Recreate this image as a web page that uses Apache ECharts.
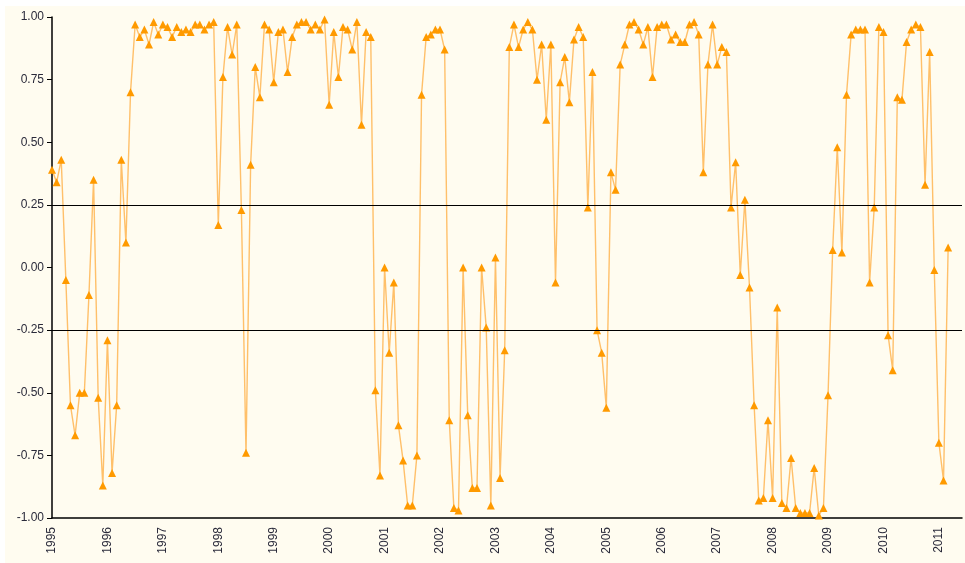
<!DOCTYPE html>
<html>
<head>
    <meta charset="utf-8">
    <title>chart</title>
    <script src="https://cdn.jsdelivr.net/npm/echarts@6/dist/echarts.min.js"></script>
    <style>
        html, body { margin: 0; padding: 0; background: #fff; }
        #main { width: 965px; height: 563px; }
    </style>
</head>
<body>
    <div id="main"></div>
    <script>
        // monthly values, Jan 1995 .. Mar 2011
        var startYear = 1995;
        var monthCount = 198; // axis runs a little past the last point
        var values = [
            0.39, 0.34, 0.43, -0.05, -0.55, -0.67, -0.50, -0.50, -0.11, 0.35, -0.52, -0.87,
            -0.29, -0.82, -0.55, 0.43, 0.10, 0.70, 0.97, 0.92, 0.95, 0.89, 0.98, 0.93,
            0.97, 0.96, 0.92, 0.96, 0.94, 0.95, 0.94, 0.97, 0.97, 0.95, 0.97, 0.98,
            0.17, 0.76, 0.96, 0.85, 0.97, 0.23, -0.74, 0.41, 0.80, 0.68, 0.97, 0.95,
            0.74, 0.94, 0.95, 0.78, 0.92, 0.97, 0.98, 0.98, 0.95, 0.97, 0.95, 0.99,
            0.65, 0.94, 0.76, 0.96, 0.95, 0.87, 0.98, 0.57, 0.94, 0.92, -0.49, -0.83,
            0.00, -0.34, -0.06, -0.63, -0.77, -0.95, -0.95, -0.75, 0.69, 0.92, 0.93, 0.95,
            0.95, 0.87, -0.61, -0.96, -0.97, 0.00, -0.59, -0.88, -0.88, 0.00, -0.24, -0.95,
            0.04, -0.84, -0.33, 0.88, 0.97, 0.88, 0.95, 0.98, 0.95, 0.75, 0.89, 0.59,
            0.89, -0.06, 0.74, 0.84, 0.66, 0.91, 0.96, 0.92, 0.24, 0.78, -0.25, -0.34,
            -0.56, 0.38, 0.31, 0.81, 0.89, 0.97, 0.98, 0.95, 0.89, 0.96, 0.76, 0.96,
            0.97, 0.97, 0.91, 0.93, 0.90, 0.90, 0.97, 0.98, 0.93, 0.38, 0.81, 0.97,
            0.81, 0.88, 0.86, 0.24, 0.42, -0.03, 0.27, -0.08, -0.55, -0.93, -0.92, -0.61,
            -0.92, -0.16, -0.94, -0.96, -0.76, -0.96, -0.98, -0.98, -0.98, -0.80, -0.99, -0.96,
            -0.51, 0.07, 0.48, 0.06, 0.69, 0.93, 0.95, 0.95, 0.95, -0.06, 0.24, 0.96,
            0.94, -0.27, -0.41, 0.68, 0.67, 0.90, 0.95, 0.97, 0.96, 0.33, 0.86, -0.01,
            -0.70, -0.85, 0.08
        ];
        var refLines = [0.25, -0.25];

        var months = [];
        for (var i = 0; i < monthCount; i++) {
            var y = startYear + Math.floor(i / 12);
            var m = (i % 12) + 1;
            months.push(y + '-' + (m < 10 ? '0' + m : m));
        }

        var chart = echarts.init(document.getElementById('main'));
        chart.setOption({
            animation: false,
            backgroundColor: '#ffffff',
            graphic: [{
                type: 'rect',
                left: 5,
                top: 6,
                shape: { width: 960, height: 557 },
                style: { fill: '#fffcf0' },
                z: -10
            }],
            grid: {
                left: 52,
                right: 3,
                top: 17,
                bottom: 45
            },
            xAxis: {
                type: 'category',
                data: months,
                boundaryGap: false,
                axisLine: { onZero: false, lineStyle: { color: '#000', width: 1.5 } },
                axisTick: { show: false },
                axisLabel: {
                    interval: function (i) { return i % 12 === 0; },
                    rotate: 90,
                    margin: 9,
                    color: '#2a2a3a',
                    fontFamily: 'Liberation Sans, Arial, sans-serif',
                    fontSize: 12,
                    formatter: function (v) { return v.slice(0, 4); }
                },
                splitLine: { show: false }
            },
            yAxis: {
                type: 'value',
                min: -1,
                max: 1,
                interval: 0.25,
                axisLine: { show: true, lineStyle: { color: '#000', width: 1.5 } },
                axisTick: { show: true, length: 5, lineStyle: { color: '#000' } },
                axisLabel: {
                    margin: 8,
                    color: '#2a2a3a',
                    fontFamily: 'Liberation Sans, Arial, sans-serif',
                    fontSize: 12,
                    formatter: function (v) { return v.toFixed(2); }
                },
                splitLine: { show: false }
            },
            series: [{
                type: 'line',
                data: values,
                symbol: 'triangle',
                symbolSize: 8,
                showAllSymbol: true,
                itemStyle: { color: '#ff9a00' },
                lineStyle: { color: '#ffb552', width: 1.4, opacity: 0.85 },
                markLine: {
                    silent: true,
                    symbol: 'none',
                    label: { show: false },
                    lineStyle: { color: '#000', width: 1, type: 'solid' },
                    data: refLines.map(function (v) { return { yAxis: v }; })
                }
            }]
        });
    </script>
</body>
</html>
